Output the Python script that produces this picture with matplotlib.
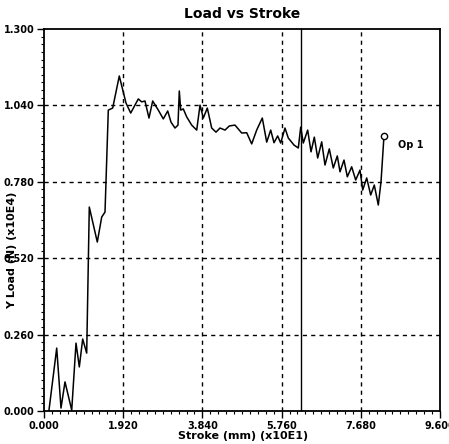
import matplotlib
matplotlib.use("Agg")
import matplotlib.pyplot as plt
from matplotlib.ticker import MultipleLocator, AutoMinorLocator

plt.rcParams['font.family'] = ['Liberation Sans Narrow', 'DejaVu Sans']

# stroke (x10E1 mm) and load (x10E4 N)
stroke = [0.121, 0.308, 0.412, 0.509, 0.672, 0.776, 0.856, 0.938, 1.035, 1.098,
          1.292, 1.399, 1.479, 1.559, 1.665, 1.825, 1.988, 2.102, 2.286, 2.368,
          2.448, 2.545, 2.635, 2.771, 2.892, 2.999, 3.079, 3.176, 3.248, 3.280,
          3.314, 3.377, 3.459, 3.580, 3.702, 3.782, 3.862, 3.959, 4.065, 4.170,
          4.267, 4.388, 4.492, 4.630, 4.793, 4.914, 5.035, 5.156, 5.292, 5.399,
          5.496, 5.576, 5.665, 5.738, 5.842, 5.922, 6.061, 6.165, 6.223, 6.286,
          6.392, 6.473, 6.553, 6.635, 6.732, 6.812, 6.916, 7.013, 7.110, 7.176,
          7.273, 7.353, 7.459, 7.556, 7.661, 7.726, 7.823, 7.920, 8.007, 8.104,
          8.170, 8.242]
load = [0.003, 0.214, 0.010, 0.099, 0.003, 0.231, 0.150, 0.245, 0.197, 0.694,
        0.575, 0.660, 0.677, 1.024, 1.031, 1.140, 1.048, 1.014, 1.062, 1.052,
        1.055, 0.997, 1.055, 1.024, 0.994, 1.021, 0.983, 0.963, 0.973, 1.089,
        1.024, 1.028, 1.001, 0.973, 0.956, 1.041, 0.997, 1.031, 0.963, 0.949,
        0.963, 0.956, 0.970, 0.973, 0.946, 0.947, 0.909, 0.956, 0.997, 0.915,
        0.956, 0.913, 0.936, 0.912, 0.963, 0.929, 0.905, 0.895, 0.966, 0.912,
        0.956, 0.882, 0.932, 0.861, 0.916, 0.837, 0.892, 0.827, 0.868, 0.814,
        0.854, 0.797, 0.831, 0.786, 0.820, 0.752, 0.793, 0.735, 0.769, 0.701,
        0.780, 0.936]

x_ticks = [0.0, 1.92, 3.84, 5.76, 7.68, 9.6]
x_labels = ["0.000", "1.920", "3.840", "5.760", "7.680", "9.600"]
y_ticks = [0.0, 0.26, 0.52, 0.78, 1.04, 1.3]
y_labels = ["0.000", "0.260", "0.520", "0.780", "1.040", "1.300"]
cursor_x = 6.23
series_name = "Op 1"

W, H = 449, 444
fig = plt.figure(figsize=(W / 100, H / 100), dpi=100)
ax = fig.add_axes([44 / W, (H - 411) / H, 396 / W, 382 / H])

ax.plot(stroke, load, color='black', lw=1.1)
ax.plot(stroke[-1], load[-1], 'o', ms=4.5, mfc='white', mec='black', mew=1)
ax.text(stroke[-1] + 0.35, load[-1] - 0.03, series_name, fontsize=7,
        fontweight='bold', va='center')

ax.set_xlim(0, 9.6)
ax.set_ylim(0, 1.3)
ax.set_xticks(x_ticks)
ax.set_xticklabels(x_labels)
ax.set_yticks(y_ticks)
ax.set_yticklabels(y_labels)
ax.xaxis.set_minor_locator(AutoMinorLocator(10))
ax.yaxis.set_minor_locator(AutoMinorLocator(10))
ax.tick_params(which='major', direction='out', length=5, width=1,
               labelsize=7, pad=2)
ax.tick_params(which='minor', direction='out', length=2.5, width=0.8)
for lab in ax.get_xticklabels() + ax.get_yticklabels():
    lab.set_fontweight('bold')

for xv in x_ticks[1:-1]:
    ax.axvline(xv, color='black', ls=(0, (3, 3)), lw=1)
for yv in y_ticks[1:-1]:
    ax.axhline(yv, color='black', ls=(0, (3, 3)), lw=1)
ax.axvline(cursor_x, color='black', lw=1)

for s in ax.spines.values():
    s.set_linewidth(1.3)

fig.text(242 / W, 1 - 14 / H, "Load vs Stroke", ha='center', va='center',
         fontsize=10, fontweight='bold')
fig.text(243 / W, 1 - 436 / H, "Stroke (mm) (x10E1)", ha='center', va='center',
         fontsize=8, fontweight='bold')
fig.text(12 / W, 1 - 250 / H, "Y Load (N) (x10E4)", ha='center', va='center',
         fontsize=8, fontweight='bold', rotation=90)

fig.savefig("out.png", dpi=100)
